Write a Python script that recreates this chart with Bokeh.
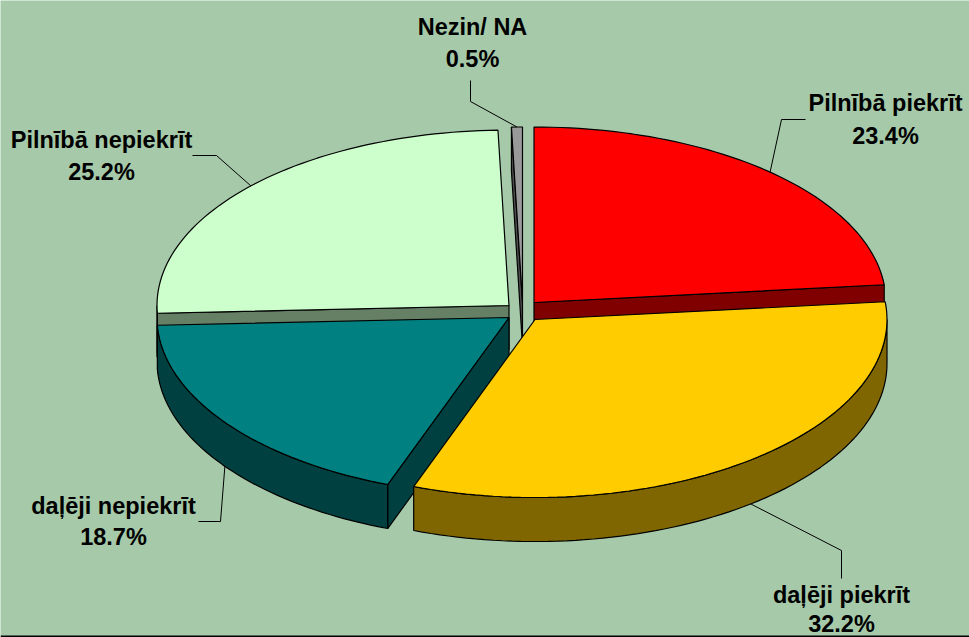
import math
from bokeh.core.properties import value
from bokeh.embed import file_html
from bokeh.models import Range1d
from bokeh.plotting import figure
from bokeh.resources import INLINE

# ---- chart values (clockwise from 12 o'clock) ----
labels = ["Pilnībā piekrīt", "daļēji piekrīt", "daļēji nepiekrīt", "Pilnībā nepiekrīt", "Nezin/ NA"]
shares = [23.4, 32.2, 18.7, 25.2, 0.5]
top_colors = ["#FF0000", "#FFCC00", "#008080", "#CCFFCC", "#999999"]
wall_colors = ["#800000", "#806600", "#004040", "#668066", "#4D4D4D"]

# ---- layout of the exploded, tilted pie (screen pixels) ----
W, H = 969, 637
BG = "#A6CAA9"
CX, CY = 522, 311
RX = 352
DEPTH = 44
explode = [(11.5, -9), (12.5, 8), (-13.5, 6), (-13.5, -6), (0, -9)]
draw_order = [3, 4, 0, 2, 1]
# label centres: (x, y of name, y of percentage) and the leader elbows
label_pos = [(885, 102, 135), (841, 594, 623), (113, 505, 536), (101, 139, 171), (472, 26, 58)]
leader_knees = [[(781, 119), (805, 119)], [(841, 550), (841, 578)], [(220, 521), (198, 521)],
                [(216, 155), (192, 155)], [(470, 101), (470, 80)]]


def rim(ax, ay, deg):
    t = math.radians(deg)
    ry = 176.75 - 1.25 * math.cos(t)
    return ax + RX * math.sin(t), ay - ry * math.cos(t)


def arc(ax, ay, a0, a1):
    n = max(2, int(abs(a1 - a0) / 1.5) + 2)
    return [rim(ax, ay, a0 + (a1 - a0) * i / (n - 1)) for i in range(n)]


p = figure(width=W, height=H, x_range=Range1d(0, W), y_range=Range1d(H, 0),
           output_backend="svg", toolbar_location=None, min_border=0,
           background_fill_color=BG, border_fill_color=BG, outline_line_color=None)
p.axis.visible = False
p.grid.visible = False


def poly(points, color):
    p.patch([q[0] for q in points], [q[1] for q in points], fill_color=color,
            line_color="black", line_width=1.2)


starts, total = [], 0.0
for s in shares:
    starts.append(total * 3.6)
    total += s

for i in draw_order:
    a0, a1 = starts[i], starts[i] + shares[i] * 3.6
    ax, ay = CX + explode[i][0], CY + explode[i][1]
    wall, top = wall_colors[i], top_colors[i]
    # radial faces turned towards the viewer
    if math.sin(math.radians(a0)) < -1e-6:
        rx0, ry0 = rim(ax, ay, a0)
        poly([(ax, ay), (rx0, ry0), (rx0, ry0 + DEPTH), (ax, ay + DEPTH)], wall)
    if math.sin(math.radians(a1)) > 1e-6:
        rx1, ry1 = rim(ax, ay, a1)
        poly([(ax, ay), (rx1, ry1), (rx1, ry1 + DEPTH), (ax, ay + DEPTH)], wall)
    # outer wall on the front half
    f0, f1 = max(a0, 90), min(a1, 270)
    if f1 > f0:
        edge = arc(ax, ay, f0, f1)
        poly(edge + [(x, y + DEPTH) for x, y in reversed(edge)], wall)
    # top face
    poly([(ax, ay)] + arc(ax, ay, a0, a1), top)

# leaders and labels
for i, name in enumerate(labels):
    mid = starts[i] + shares[i] * 1.8
    ax, ay = CX + explode[i][0], CY + explode[i][1]
    x0, y0 = rim(ax, ay, mid)
    if 90 < mid < 270:
        y0 += DEPTH
    pts = [(x0, y0)] + leader_knees[i]
    p.line([q[0] for q in pts], [q[1] for q in pts], line_color="black", line_width=1)
    lx, ly, py = label_pos[i]
    for txt, yy in ((name, ly), (f"{shares[i]:.1f}%", py)):
        p.text([lx], [yy], text=[txt], text_font=value("Liberation Sans"), text_font_style="bold",
               text_font_size="23.5px", text_align="center", text_baseline="middle", text_color="black")

# frame line along the bottom edge
p.line([0, W], [636, 636], line_color="black", line_width=2)

open("out.html", "w").write(file_html(p, INLINE))
